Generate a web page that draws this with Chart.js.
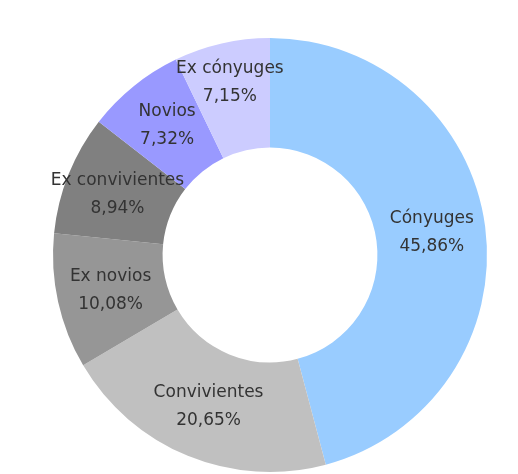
<!DOCTYPE html>
<html>
<head>
<meta charset="utf-8">
<script src="https://cdn.jsdelivr.net/npm/chart.js@4.4.1/dist/chart.umd.min.js"></script>
<style>
  html, body { margin: 0; padding: 0; background: #fff; }
  #wrap { width: 518px; height: 474px; position: relative; }
</style>
</head>
<body>
<div id="wrap"><canvas id="relChart"></canvas></div>
<script>
const categories = ['Cónyuges', 'Convivientes', 'Ex novios', 'Ex convivientes', 'Novios', 'Ex cónyuges'];
const shares = [45.86, 20.65, 10.08, 8.94, 7.32, 7.15];
const shareLabels = ['45,86%', '20,65%', '10,08%', '8,94%', '7,32%', '7,15%'];

const sliceColors = ['#99ccff', '#c0c0c0', '#969696', '#808080', '#9999ff', '#ccccff'];
// small nudges so labels sit where the original put them
const labelNudge = [[1, -1], [0, 1], [-1, 1], [-2, 0], [-1, -3], [-4, -14]];

const sliceLabels = {
  id: 'sliceLabels',
  afterDatasetsDraw(chart) {
    const ctx = chart.ctx;
    const arcs = chart.getDatasetMeta(0).data;
    ctx.save();
    ctx.font = '17px "DejaVu Sans", Verdana, sans-serif';
    ctx.fillStyle = '#333';
    ctx.textAlign = 'center';
    ctx.textBaseline = 'middle';
    arcs.forEach((arc, i) => {
      const mid = (arc.startAngle + arc.endAngle) / 2;
      const r = (arc.innerRadius + arc.outerRadius) / 2;
      const x = arc.x + Math.cos(mid) * r + labelNudge[i][0];
      const y = arc.y + Math.sin(mid) * r + labelNudge[i][1];
      ctx.fillText(categories[i], x, y - 14);
      ctx.fillText(shareLabels[i], x, y + 14);
    });
    ctx.restore();
  }
};

new Chart(document.getElementById('relChart'), {
  type: 'doughnut',
  data: {
    labels: categories,
    datasets: [{
      data: shares,
      backgroundColor: sliceColors,
      borderWidth: 0
    }]
  },
  options: {
    responsive: true,
    maintainAspectRatio: false,
    animation: false,
    cutout: '49.5%',
    layout: { padding: { top: 38, bottom: 2, left: 22, right: 0 } },
    plugins: {
      legend: { display: false },
      tooltip: { enabled: false }
    }
  },
  plugins: [sliceLabels]
});
</script>
</body>
</html>
